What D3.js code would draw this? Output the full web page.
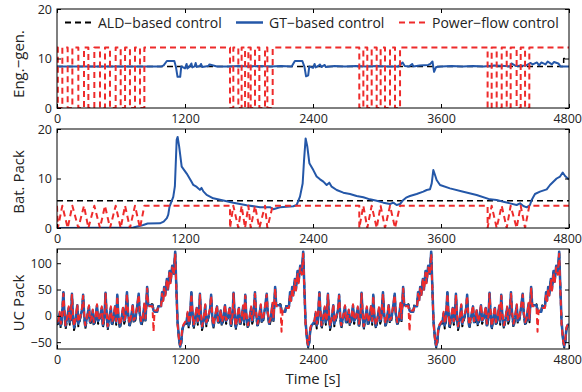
<!DOCTYPE html>
<html>
<head>
<meta charset="utf-8">
<script src="https://cdn.jsdelivr.net/npm/d3@7"></script>
<style>
  body { margin: 0; background: #fff; }
  svg text { font-family: "Open Sans", "Noto Sans", sans-serif; fill: #222; }
</style>
</head>
<body>
<div id="chart"></div>
<script>
// time axis
var xTicks = [0, 1200, 2400, 3600, 4800]

// engine-generator power, GT-based control
var engT = [0, 980, 1000, 1030, 1100, 1115, 1130, 1155, 1165, 1200,
  1215, 1222, 1240, 1260, 1268, 1290, 1300, 1310, 1340, 1350,
  1360, 1420, 1430, 1500, 1600, 1700, 1800, 1900, 2000, 2100,
  2200, 2230, 2300, 2320, 2335, 2355, 2365, 2400, 2415, 2425,
  2450, 2465, 2480, 2510, 2520, 2600, 2700, 2800, 2900, 3000,
  3100, 3200, 3240, 3260, 3300, 3330, 3340, 3400, 3480, 3500,
  3520, 3535, 3555, 3600, 3700, 3800, 3900, 4000, 4100, 4200,
  4250, 4260, 4300, 4400, 4440, 4460, 4500, 4520, 4540, 4580,
  4600, 4640, 4660, 4700, 4720, 4800]
var engGT = [8.4, 8.4, 8.6, 9.5, 9.5, 8.3, 6.3, 6.3, 8.4, 8.0,
  8.9, 8.0, 8.3, 9.0, 8.2, 8.4, 9.1, 8.3, 8.5, 8.9,
  8.3, 8.5, 8.8, 8.4, 8.4, 8.5, 8.4, 8.5, 8.4, 8.5,
  8.4, 9.5, 9.5, 8.3, 6.4, 6.6, 8.4, 8.1, 8.9, 8.2,
  8.5, 8.8, 8.3, 8.7, 8.3, 8.5, 8.4, 8.5, 8.4, 8.5,
  8.4, 8.4, 9.2, 8.5, 8.4, 8.9, 8.4, 8.6, 8.7, 8.9,
  9.4, 7.3, 8.3, 8.4, 8.5, 8.4, 8.5, 8.4, 8.6, 8.5,
  8.4, 9.0, 8.5, 8.6, 9.1, 8.8, 9.2, 8.6, 9.2, 8.8,
  9.4, 8.8, 9.3, 9.0, 8.4, 8.4]
// ALD-based control
var engALDT = [0, 4750, 4750, 4800]
var engALD = [8.4, 8.4, 10, 10]
// power-flow control: on/off switching times (starts on)
var pfSwitches = [8, 50, 100, 144, 200, 253, 294, 350, 403, 450, 497, 550, 597, 638, 684, 731, 778, 819,
  1622, 1653, 1700, 1731, 1763, 1794, 1816, 1856, 1897, 1950, 1972, 2022,
  2834, 2872, 2909, 2950, 2997, 3034, 3075, 3122, 3169, 3216,
  4037, 4075, 4122, 4169, 4216, 4253, 4309, 4347, 4388, 4428]
var pfEngOn = 12.2
var pfBatOn = 4.5

// battery pack, GT-based control
var batT = [0, 715, 809, 850, 965, 1000, 1030, 1043, 1055, 1090,
  1105, 1122, 1131, 1145, 1169, 1216, 1260, 1278, 1310, 1340,
  1355, 1372, 1403, 1465, 1528, 1653, 1778, 1903, 1996, 2028,
  2090, 2215, 2247, 2278, 2303, 2316, 2331, 2347, 2366, 2403,
  2434, 2466, 2497, 2528, 2553, 2575, 2622, 2684, 2747, 2809,
  2872, 2934, 2997, 3059, 3122, 3153, 3184, 3216, 3247, 3278,
  3309, 3372, 3434, 3466, 3497, 3513, 3528, 3544, 3559, 3591,
  3684, 3809, 3934, 4059, 4122, 4184, 4247, 4309, 4341, 4372,
  4403, 4434, 4450, 4481, 4528, 4591, 4622, 4684, 4716, 4741,
  4763, 4800]
var batGT = [0, 0.1, 0.6, 0.9, 0.95, 1.3, 2.0, 2.7, 4.3, 6.3,
  8.4, 17.8, 18.4, 16.5, 12.4, 11.0, 9.4, 8.7, 8.3, 7.7,
  8.1, 7.4, 6.7, 6.0, 5.7, 5.1, 4.6, 4.2, 4.2, 3.8,
  4.2, 4.4, 4.65, 6.33, 9.0, 13.7, 18.1, 16.4, 13.1, 11.7,
  10.4, 9.83, 9.36, 8.69, 9.16, 8.35, 7.68, 7.14, 6.87, 6.46,
  6.2, 5.79, 5.52, 5.12, 4.85, 5.12, 4.65, 4.85, 5.66, 6.2,
  6.46, 6.87, 7.34, 7.68, 7.81, 9.02, 11.7, 10.7, 9.7, 8.69,
  8.01, 7.34, 6.67, 5.79, 5.66, 5.32, 4.98, 4.65, 4.98, 4.44,
  4.18, 4.65, 5.66, 6.87, 7.34, 7.81, 8.69, 10.0, 10.4, 11.2,
  10.5, 9.8]
var batALD = 5.5

// UC pack, one 1200 s drive cycle (repeated 4 times)
var ucCycle = 1200
var ucTau = [0, 15, 25, 35, 45, 60, 70, 80, 95, 110, 120, 130, 140, 150, 160, 175, 190, 200, 215, 235,
  245, 255, 265, 280, 300, 310, 325, 335, 345, 360, 375, 385, 400, 420, 430, 445, 455, 465, 475, 490,
  505, 515, 530, 545, 555, 565, 575, 590, 605, 620, 630, 640, 656, 666, 680, 695, 710, 720, 735, 750,
  766, 776, 790, 805, 820, 830, 845, 855, 870, 895, 905, 915, 940, 950, 975, 985, 995, 1005, 1015, 1030,
  1040, 1055, 1065, 1080, 1095, 1108, 1118, 1130, 1145, 1155, 1165, 1175, 1190]
var ucBlue = [-15, -10, 5, -18, -8, 45, 5, -20, -5, 15, -12, -5, 42, 0, -22, -8, 20, -15, -5, 12,
  40, 0, -20, -5, 18, -12, -5, 10, -15, -5, 20, -10, -5, 15, -18, -3, 44, 5, -22, -5,
  15, -15, -5, 18, -12, 40, 0, -20, -5, 15, -10, -5, 45, 5, -18, -3, 20, -10, -5, 15,
  42, 5, -15, -5, 22, -8, 55, 20, 20, 20, 10, 8, 8, 18, 18, 45, 30, 55, 40, 70,
  50, 85, 65, 95, 80, 122, 60, -10, -45, -58, -50, -25, -17]
var ucRed = [-12, -8, 8, -15, -5, 42, 8, -18, -3, 18, -10, -3, 40, 3, -20, -5, 22, -12, -3, 15,
  38, 3, -18, -3, 20, -10, -3, 12, -12, -3, 22, -8, -3, 18, -15, 0, 42, 8, -20, -3,
  18, -12, -3, 20, -10, 38, 3, -18, -3, 18, -8, -3, 42, 8, -15, 0, 22, -8, -3, 18,
  40, 8, -12, -3, 25, -5, 52, 18, 18, 18, -30, 10, 10, 15, 15, 42, 28, 52, 38, 68,
  48, 82, 62, 92, 78, 118, 55, -15, -48, -55, -45, -22, -15]
var ucBlack = [-17, -14, 4, -24, -12, 44, 3, -26, -8, 13, -17, -8, 40, -3, -27, -12, 18, -20, -8, 10,
  38, -3, -25, -8, 16, -17, -8, 8, -20, -8, 18, -15, -8, 13, -23, -6, 42, 3, -27, -8,
  13, -20, -8, 16, -17, 38, -3, -25, -8, 13, -15, -8, 43, 3, -23, -6, 18, -15, -8, 13,
  40, 3, -20, -8, 20, -12, 53, 22, 22, 22, 12, 10, 10, 20, 20, 43, 32, 53, 42, 68,
  52, 83, 67, 93, 82, 120, 58, -12, -47, -60, -52, -27, -19]

var blue = '#2457a8'
var red = '#ee2b2b'

var W = 582, H = 392
var left = 57, right = 569

var svg = d3.select('#chart').append('svg')
  .attr('width', W)
  .attr('height', H)

var x = d3.scaleLinear().domain([0, 4800]).range([left, right])

function zip(ts, vs) {
  return ts.map((t, i) => [t, vs[i]])
}

// step series for power-flow control
function pfSteps(on) {
  var pts = [[0, on]]
  var cur = on
  pfSwitches.forEach(t => {
    var nxt = cur === on ? 0 : on
    pts.push([t, cur])
    pts.push([t, nxt])
    cur = nxt
  })
  pts.push([4800, cur])
  return pts
}

// battery under power-flow control swings between 0 and on level
function pfZigzag(on) {
  var pts = [[0, on]]
  var cur = on
  var prev = -1
  pfSwitches.forEach(t => {
    var nxt = cur === on ? 0 : on
    if (prev >= 0 && t - prev > 200) pts.push([t, cur])
    pts.push([t, nxt])
    cur = nxt
    prev = t
  })
  pts.push([4800, cur])
  return pts
}

function ucSeries(vals) {
  var pts = []
  for (var c = 0; c < 4; c++) {
    ucTau.forEach((tau, i) => pts.push([c * ucCycle + tau, vals[i]]))
  }
  pts.push([4800, vals[vals.length - 1]])
  return pts
}

function panel(id, top, bottom, domain, yTicks, label, labelY, series) {
  var y = d3.scaleLinear().domain(domain).range([bottom, top])
  var g = svg.append('g').attr('class', 'panel ' + id)

  g.append('clipPath').attr('id', 'clip-' + id)
    .append('rect')
    .attr('x', left).attr('y', top)
    .attr('width', right - left).attr('height', bottom - top)

  var line = d3.line().x(d => x(d[0])).y(d => y(d[1]))
  var plot = g.append('g').attr('clip-path', `url(#clip-${id})`)
  series.forEach(s => {
    plot.append('path')
      .datum(s.data)
      .attr('d', line)
      .attr('fill', 'none')
      .attr('stroke', s.color)
      .attr('stroke-width', s.width)
      .attr('stroke-dasharray', s.dash || null)
      .attr('stroke-linejoin', 'round')
  })

  var ax = d3.axisBottom(x).tickValues(xTicks).tickSize(-4).tickSizeOuter(0).tickPadding(6).tickFormat(d3.format('d'))
  var bx = g.append('g').attr('transform', `translate(0,${bottom})`).call(ax)
  // last label sits against the right edge of the figure
  bx.selectAll('.tick text').filter(d => d === 4800)
    .attr('text-anchor', 'end')
    .attr('x', W - 0.5 - right)
  g.append('g').attr('transform', `translate(0,${top})`)
    .call(d3.axisTop(x).tickValues(xTicks).tickSize(-4).tickSizeOuter(0).tickFormat(''))
  g.append('g').attr('transform', `translate(${left},0)`)
    .call(d3.axisLeft(y).tickValues(yTicks).tickSize(-4).tickSizeOuter(0).tickPadding(5))
  g.append('g').attr('transform', `translate(${right},0)`)
    .call(d3.axisRight(y).tickValues(yTicks).tickSize(-4).tickSizeOuter(0).tickFormat(''))

  g.selectAll('.tick text').style('font-size', '12.5px').attr('fill', '#222')
  g.selectAll('.tick line').attr('stroke', '#000')
  g.selectAll('.domain').remove()

  g.append('rect')
    .attr('x', left).attr('y', top)
    .attr('width', right - left).attr('height', bottom - top)
    .attr('fill', 'none')
    .attr('stroke', '#000')
    .attr('stroke-width', 1)

  svg.append('text')
    .attr('transform', `translate(24,${labelY}) rotate(-90)`)
    .attr('text-anchor', 'middle')
    .style('font-size', '15px')
    .text(label)
  return g
}

panel('eng', 9, 108, [0, 20], [0, 10, 20], 'Eng.−gen.', 64, [
  { data: zip(engALDT, engALD), color: '#000', width: 1.5, dash: '6,4' },
  { data: zip(engT, engGT), color: blue, width: 2 },
  { data: pfSteps(pfEngOn), color: red, width: 2, dash: '6,4' }
])

panel('bat', 129, 228, [0, 20], [0, 10, 20], 'Bat. Pack', 182, [
  { data: [[0, batALD], [4800, batALD]], color: '#000', width: 1.5, dash: '6,4' },
  { data: zip(batT, batGT), color: blue, width: 2 },
  { data: pfZigzag(pfBatOn), color: red, width: 2, dash: '6,4' }
])

panel('uc', 249, 349, [-63, 127], [-50, 0, 50, 100], 'UC Pack', 303, [
  { data: ucSeries(ucBlack), color: '#000', width: 2, dash: '6,4' },
  { data: ucSeries(ucBlue), color: blue, width: 2.5 },
  { data: ucSeries(ucRed), color: red, width: 2, dash: '6,4' }
])

svg.append('text')
  .attr('x', (left + right) / 2)
  .attr('y', 384)
  .attr('text-anchor', 'middle')
  .style('font-size', '15px')
  .text('Time [s]')

// legend
var legendItems = [
  { label: 'ALD−based control', color: '#000', dash: '6,4', width: 2, x: 65 },
  { label: 'GT−based control', color: blue, dash: null, width: 2.5, x: 236 },
  { label: 'Power−flow control', color: red, dash: '6,4', width: 2, x: 399 }
]
var legend = svg.append('g').attr('class', 'legend')
legendItems.forEach(d => {
  legend.append('line')
    .attr('x1', d.x).attr('x2', d.x + 27)
    .attr('y1', 22.5).attr('y2', 22.5)
    .attr('stroke', d.color)
    .attr('stroke-width', d.width)
    .attr('stroke-dasharray', d.dash)
  legend.append('text')
    .attr('x', d.x + 33)
    .attr('y', 27.5)
    .style('font-size', '14px')
    .text(d.label)
})
</script>
</body>
</html>
